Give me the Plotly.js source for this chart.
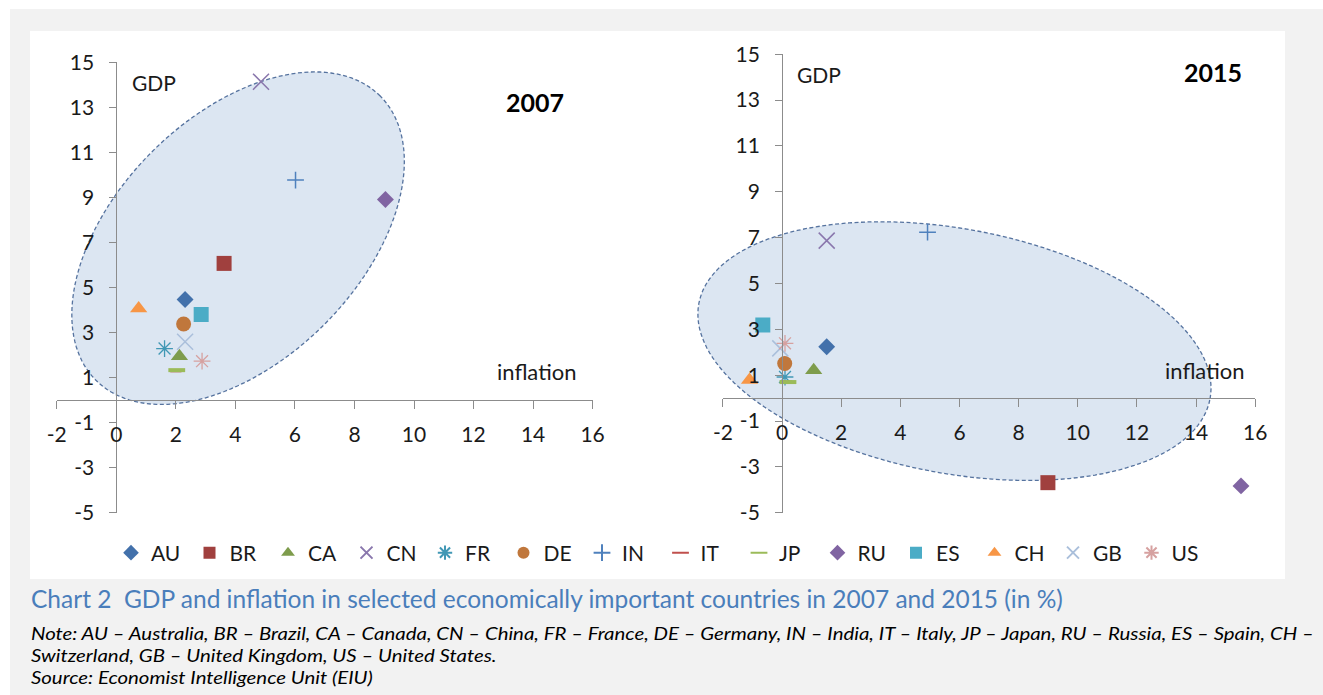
<!DOCTYPE html>
<html><head><meta charset="utf-8">
<script src="https://cdn.plot.ly/plotly-3.0.1.min.js"></script>
<style>html,body{margin:0;padding:0;background:#fff}#chart{width:1323px;height:695px}</style>
</head><body><div id="chart"></div>
<script>
// ---------- data ----------
const countries = ['AU','BR','CA','CN','FR','DE','IN','IT','JP','RU','ES','CH','GB','US'];
const inflation2007 = [2.31, 3.62, 2.12, 4.86, 1.62, 2.26, 6.02, 2.00, 2.03, 9.04, 2.85, 0.75, 2.31, 2.88];
const gdp2007       = [4.47, 6.07, 1.95, 14.14, 2.29, 3.38, 9.77, 1.30, 1.33, 8.91, 3.80, 4.07, 2.59, 1.73];
const inflation2015 = [1.51, 8.99, 1.07, 1.51, 0.10, 0.09, 4.92, 0.15, 0.20, 15.52, -0.65, -1.10, -0.06, 0.10];
const gdp2015       = [2.24, -3.69, 1.22, 6.87, 0.92, 1.51, 7.24, 0.70, 0.70, -3.83, 3.19, 0.79, 2.17, 2.39];
const xTicks = [-2, 0, 2, 4, 6, 8, 10, 12, 14, 16];
const yTicks = [-5, -3, -1, 1, 3, 5, 7, 9, 11, 13, 15];
const years = ['2007', '2015'];

// ---------- styles ----------
const symbols = ['diamond','square','triangle-up','x-thin-open','asterisk-open','circle','cross-thin-open',
                 'line-ew-open','line-ew-open','diamond','square','triangle-up','x-thin-open','asterisk-open'];
const colors  = ['#4371ab','#a0403e','#7e9c4c','#8a77ad','#4198b5','#c0773c','#4f81bd',
                 '#c0504d','#9bbb59','#8064a2','#4bacc6','#f79646','#aabfdb','#d6a1a0'];
const sizes   = [13, 15, 15, 16, 14, 15, 12, 8, 12, 13, 15, 15, 16, 14];
const lineW   = [0, 0, 0, 1.5, 1.3, 0, 1.5, 3, 4, 0, 0, 0, 1.5, 1.3];

const FONT = 'Lato, "Open Sans", sans-serif';
const W = 1323, H = 695;
const px = v => v / W;
const py = v => 1 - v / H;
const xr = [-2, 16], yr = [-5, 15];
const panels = [
  {x0: 56.8, x1: 592.6, yTop: 62.3, yBot: 512.7},
  {x0: 722.9, x1: 1255.2, yTop: 54.3, yBot: 512.7}
];

// ellipse outline (decoration) built in paper space so it is not clipped by the plot area
function ellipsePath(p, cx, cy, a, b, deg) {
  const sx = (p.x1 - p.x0) / (xr[1] - xr[0]);
  const sy = (p.yBot - p.yTop) / (yr[1] - yr[0]);
  const cpx = p.x0 + (cx - xr[0]) * sx;
  const cpy = p.yBot - (cy - yr[0]) * sy;
  const th = deg * Math.PI / 180;
  let d = '';
  for (let k = 0; k <= 160; k++) {
    const t = 2 * Math.PI * k / 160;
    const ex = a * Math.cos(t) * Math.cos(th) - b * Math.sin(t) * Math.sin(th);
    const ey = a * Math.cos(t) * Math.sin(th) + b * Math.sin(t) * Math.cos(th);
    d += (k ? 'L' : 'M') + px(cpx + ex).toFixed(5) + ',' + py(cpy - ey).toFixed(5);
  }
  return d + 'Z';
}

const traces = [];
[[inflation2007, gdp2007, 'x', 'y', true], [inflation2015, gdp2015, 'x2', 'y2', false]].forEach(([xs, ys, xa, ya, show]) => {
  countries.forEach((c, i) => {
    traces.push({
      type: 'scatter', mode: 'markers', name: c, legendgroup: c, showlegend: show,
      x: [xs[i]], y: [ys[i]], xaxis: xa, yaxis: ya, cliponaxis: false,
      marker: {symbol: symbols[i], color: colors[i], size: sizes[i],
               line: {color: colors[i], width: lineW[i]}},
      hovertemplate: c + ': inflation %{x}, GDP %{y}<extra></extra>'
    });
  });
});

function axisPair(p) {
  const xd = [px(p.x0), px(p.x1)];
  const yd = [py(p.yBot), py(p.yTop)];
  const xPos = yd[0] + (0 - yr[0]) / (yr[1] - yr[0]) * (yd[1] - yd[0]);
  const yPos = xd[0] + (0 - xr[0]) / (xr[1] - xr[0]) * (xd[1] - xd[0]);
  const common = {showgrid: false, zeroline: false, showline: true, linecolor: '#8c8c8c', linewidth: 1,
                  ticks: 'outside', tickcolor: '#8c8c8c', tickwidth: 1, ticklen: 8,
                  tickfont: {family: FONT, size: 21, color: '#1a1a1a'}, fixedrange: true};
  return [
    Object.assign({}, common, {domain: xd, range: xr, anchor: 'free', position: xPos,
      tickmode: 'array', tickvals: xTicks, ticktext: xTicks.map(String), ticklabelstandoff: 8}),
    Object.assign({}, common, {domain: yd, range: yr, anchor: 'free', position: yPos, ticklen: 7,
      tickmode: 'array', tickvals: yTicks, ticktext: yTicks.map(String), ticklabelstandoff: 11})
  ];
}
const [xa1, ya1] = axisPair(panels[0]);
const [xa2, ya2] = axisPair(panels[1]);

// text fitting helper (caption)
const cv = document.createElement('canvas').getContext('2d');
function fit(text, target, base) {
  cv.font = base + 'px ' + FONT;
  return base * target / cv.measureText(text).width;
}
const captionText = 'Chart 2  GDP and inflation in selected economically important countries in 2007 and 2015 (in %)';
const note1 = 'Note: AU – Australia, BR – Brazil, CA – Canada, CN – China, FR – France, DE – Germany, IN – India, IT – Italy, JP – Japan, RU – Russia, ES – Spain, CH –';
const note2 = 'Switzerland, GB – United Kingdom, US – United States.';
const note3 = 'Source: Economist Intelligence Unit (EIU)';
const capSize = Math.min(25, fit(captionText, 1034, 24));
const NOTE_TARGET = 1284;

const ellLine = {color: '#56739f', width: 1.3, dash: '4px,2.5px'};
const ellFill = 'rgba(185,205,229,0.5)';

const layout = {
  width: W, height: H, margin: {l: 0, r: 0, t: 0, b: 0},
  paper_bgcolor: '#ffffff', plot_bgcolor: 'rgba(0,0,0,0)',
  font: {family: FONT, color: '#1a1a1a'},
  xaxis: xa1, yaxis: ya1, xaxis2: xa2, yaxis2: ya2,
  showlegend: true,
  legend: {orientation: 'h', x: px(111), y: py(553), xanchor: 'left', yanchor: 'middle',
           font: {family: FONT, size: 21, color: '#1a1a1a'}, itemsizing: 'constant',
           entrywidth: 33.5, entrywidthmode: 'pixels',
           bgcolor: 'rgba(0,0,0,0)', traceorder: 'normal'},
  shapes: [
    {type: 'rect', xref: 'paper', yref: 'paper', x0: px(10), x1: 1, y0: 0, y1: py(9),
     fillcolor: '#f2f2f2', line: {width: 0}, layer: 'below'},
    {type: 'rect', xref: 'paper', yref: 'paper', x0: px(30), x1: px(1285), y0: py(579), y1: py(31),
     fillcolor: '#ffffff', line: {width: 0}, layer: 'below'},
    {type: 'path', xref: 'paper', yref: 'paper', path: ellipsePath(panels[0], 4.09, 7.19, 201, 122, 45),
     fillcolor: ellFill, line: ellLine, layer: 'below'},
    {type: 'path', xref: 'paper', yref: 'paper', path: ellipsePath(panels[1], 5.83, 2.05, 260, 122.3, -10.57),
     fillcolor: ellFill, line: ellLine, layer: 'below'}
  ],
  annotations: [
    {xref: 'x', yref: 'y', x: 0.45, y: 14.1, text: 'GDP', showarrow: false, xanchor: 'left', yanchor: 'middle', font: {size: 21}},
    {xref: 'x2', yref: 'y2', x: 0.45, y: 14.1, text: 'GDP', showarrow: false, xanchor: 'left', yanchor: 'middle', font: {size: 21}},
    {xref: 'x', yref: 'y', x: 14.06, y: 13.24, text: '<b>' + years[0] + '</b>', showarrow: false, font: {size: 25, color: '#000'}},
    {xref: 'x2', yref: 'y2', x: 14.58, y: 14.23, text: '<b>' + years[1] + '</b>', showarrow: false, font: {size: 25, color: '#000'}},
    {xref: 'x', yref: 'y', x: 14.13, y: 1.28, text: 'inflation', showarrow: false, font: {size: 22}},
    {xref: 'x2', yref: 'y2', x: 14.27, y: 1.22, text: 'inflation', showarrow: false, font: {size: 22}},
    {xref: 'paper', yref: 'paper', x: px(29), y: py(598), text: captionText.replace('  ', '&nbsp; '), showarrow: false,
     xanchor: 'left', yanchor: 'middle', font: {size: capSize, color: '#4a7ebb'}},
    {xref: 'paper', yref: 'paper', x: px(29), y: py(621),
     text: '<i>' + note1 + '<br>' + note2 + '<br>' + note3 + '</i>', showarrow: false,
     xanchor: 'left', yanchor: 'top', align: 'left', font: {size: 17, color: '#000'}}
  ]
};

const gd = document.getElementById('chart');
Plotly.newPlot(gd, traces, layout, {displayModeBar: false, staticPlot: true}).then(() => {
  // widen the note block horizontally so its first line spans the reference width
  const anns = gd.querySelectorAll('.annotation-text');
  const noteEl = anns[anns.length - 1];
  const w = noteEl.getBBox().width;
  if (w > 0) {
    const k = Math.max(1, Math.min(1.3, NOTE_TARGET / w));
    noteEl.style.transformBox = 'fill-box';
    noteEl.style.transformOrigin = '0% 50%';
    noteEl.style.transform = 'scaleX(' + k.toFixed(4) + ')';
  }
});
</script>
</body></html>
